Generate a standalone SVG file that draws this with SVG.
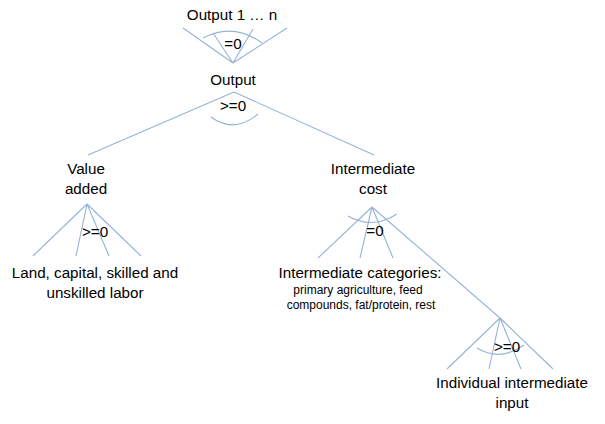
<svg xmlns="http://www.w3.org/2000/svg" width="605" height="424" viewBox="0 0 605 424">
<style>
.l{stroke:#95B3D7;stroke-width:1.1;fill:none}
.t{font-family:"Liberation Sans",Arial,sans-serif;font-size:15.2px;fill:#000;text-anchor:middle}
.s{font-size:12px}
</style>
<rect width="605" height="424" fill="#fff"/>
<g id="connectors">
<path class="l" d="M233,63 L183,28 M233,63 L213,33 M233,63 L253,29 M233,63 L287,28"/>
<path class="l" d="M203,38 Q233,22 262,43"/>
<path class="l" d="M234,92 L88,155 M234,92 L374,155"/>
<path class="l" d="M211,117 Q234,134 258,114"/>
<path class="l" d="M87,204 L33,256 M87,204 L76,256 M87,204 L109,256 M87,204 L141,256"/>
<path class="l" d="M372,207 L318,258 M372,207 L360,258 M372,207 L393,258 M372,207 L500,318"/>
<path class="l" d="M348,216 Q372,230 397,214"/>
<path class="l" d="M500,318 L447,369 M500,318 L489,369 M500,318 L521,369 M500,318 L553,369"/>
<path class="l" d="M477,348 Q500,362 524,345"/>
</g>
<g id="output-top"><text class="t" x="232" y="20">Output 1 … n</text><text class="t" x="233" y="49">=0</text></g>
<g id="output"><text class="t" x="233" y="85">Output</text><text class="t" x="233" y="111">&gt;=0</text></g>
<g id="value-added"><text class="t" x="86" y="174">Value</text><text class="t" x="86" y="194">added</text><text class="t" x="95" y="237">&gt;=0</text></g>
<g id="factors"><text class="t" x="95" y="278">Land, capital, skilled and</text><text class="t" x="95" y="298">unskilled labor</text></g>
<g id="intermediate-cost"><text class="t" x="373" y="174">Intermediate</text><text class="t" x="373" y="194">cost</text><text class="t" x="375" y="236">=0</text></g>
<g id="categories"><text class="t" x="360" y="278">Intermediate categories:</text><text class="t s" x="358" y="294">primary agriculture, feed</text><text class="t s" x="361" y="309">compounds, fat/protein, rest</text></g>
<g id="individual"><text class="t" x="507" y="352">&gt;=0</text><text class="t" x="512" y="388">Individual intermediate</text><text class="t" x="512" y="408">input</text></g>
</svg>
